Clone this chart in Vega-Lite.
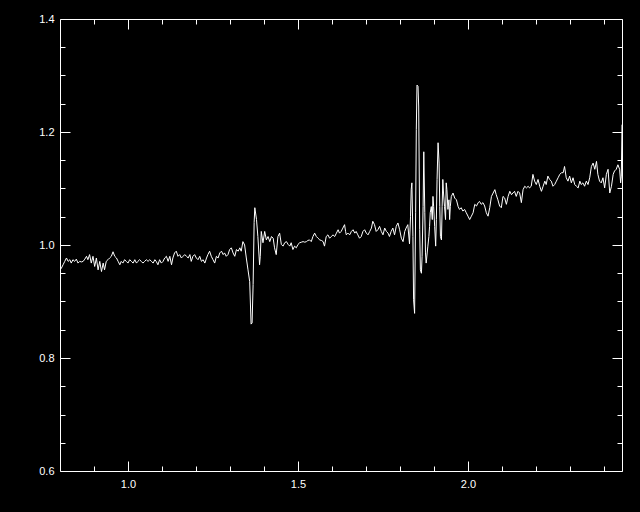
{
  "$schema": "https://vega.github.io/schema/vega-lite/v6.json",
  "autosize": "none",
  "width": 562,
  "height": 452,
  "padding": {"left": 60, "top": 19, "right": 18, "bottom": 41},
  "background": "black",
  "config": {
    "view": {"stroke": "white", "strokeWidth": 1},
    "axis": {"domain": false, "grid": false, "tickColor": "white", "tickWidth": 1, "labelColor": "white", "labelFont": "Liberation Sans", "labelFontSize": 11, "title": null, "labelFlush": false, "labelOverlap": false}
  },
  "data": {"values": [
    {"x":0.800,"y":0.956},{"x":0.804,"y":0.959},{"x":0.809,"y":0.965},{"x":0.814,"y":0.971},{"x":0.819,"y":0.977},{"x":0.824,"y":0.971},{"x":0.829,"y":0.974},{"x":0.833,"y":0.968},{"x":0.838,"y":0.974},{"x":0.843,"y":0.971},{"x":0.848,"y":0.975},{"x":0.853,"y":0.968},{"x":0.858,"y":0.971},{"x":0.863,"y":0.970},{"x":0.868,"y":0.971},{"x":0.873,"y":0.975},{"x":0.878,"y":0.980},{"x":0.882,"y":0.974},{"x":0.887,"y":0.983},{"x":0.892,"y":0.968},{"x":0.897,"y":0.980},{"x":0.902,"y":0.962},{"x":0.907,"y":0.977},{"x":0.912,"y":0.956},{"x":0.917,"y":0.971},{"x":0.922,"y":0.953},{"x":0.927,"y":0.968},{"x":0.931,"y":0.956},{"x":0.936,"y":0.971},{"x":0.941,"y":0.974},{"x":0.946,"y":0.977},{"x":0.951,"y":0.980},{"x":0.956,"y":0.988},{"x":0.961,"y":0.980},{"x":0.966,"y":0.977},{"x":0.971,"y":0.971},{"x":0.976,"y":0.965},{"x":0.980,"y":0.971},{"x":0.985,"y":0.968},{"x":0.990,"y":0.974},{"x":0.995,"y":0.971},{"x":1.000,"y":0.968},{"x":1.005,"y":0.974},{"x":1.010,"y":0.971},{"x":1.015,"y":0.968},{"x":1.020,"y":0.974},{"x":1.025,"y":0.968},{"x":1.029,"y":0.971},{"x":1.034,"y":0.974},{"x":1.039,"y":0.971},{"x":1.044,"y":0.968},{"x":1.049,"y":0.971},{"x":1.054,"y":0.974},{"x":1.059,"y":0.971},{"x":1.064,"y":0.974},{"x":1.069,"y":0.971},{"x":1.074,"y":0.968},{"x":1.079,"y":0.974},{"x":1.083,"y":0.971},{"x":1.088,"y":0.965},{"x":1.093,"y":0.974},{"x":1.098,"y":0.968},{"x":1.103,"y":0.971},{"x":1.108,"y":0.977},{"x":1.113,"y":0.980},{"x":1.118,"y":0.971},{"x":1.123,"y":0.980},{"x":1.128,"y":0.965},{"x":1.132,"y":0.977},{"x":1.137,"y":0.986},{"x":1.142,"y":0.989},{"x":1.147,"y":0.980},{"x":1.152,"y":0.983},{"x":1.157,"y":0.977},{"x":1.162,"y":0.980},{"x":1.167,"y":0.983},{"x":1.172,"y":0.980},{"x":1.177,"y":0.977},{"x":1.182,"y":0.983},{"x":1.186,"y":0.971},{"x":1.191,"y":0.980},{"x":1.196,"y":0.983},{"x":1.201,"y":0.977},{"x":1.206,"y":0.974},{"x":1.211,"y":0.980},{"x":1.216,"y":0.971},{"x":1.221,"y":0.974},{"x":1.226,"y":0.968},{"x":1.231,"y":0.977},{"x":1.235,"y":0.983},{"x":1.240,"y":0.989},{"x":1.245,"y":0.980},{"x":1.250,"y":0.974},{"x":1.255,"y":0.968},{"x":1.260,"y":0.980},{"x":1.265,"y":0.977},{"x":1.270,"y":0.986},{"x":1.275,"y":0.989},{"x":1.280,"y":0.983},{"x":1.284,"y":0.986},{"x":1.289,"y":0.980},{"x":1.294,"y":0.983},{"x":1.299,"y":0.992},{"x":1.304,"y":0.995},{"x":1.309,"y":0.986},{"x":1.314,"y":0.980},{"x":1.319,"y":0.992},{"x":1.324,"y":0.989},{"x":1.329,"y":0.995},{"x":1.333,"y":0.989},{"x":1.338,"y":1.006},{"x":1.343,"y":1.000},{"x":1.348,"y":0.977},{"x":1.353,"y":0.956},{"x":1.358,"y":0.935},{"x":1.362,"y":0.860},{"x":1.365,"y":0.862},{"x":1.368,"y":0.930},{"x":1.371,"y":1.040},{"x":1.373,"y":1.066},{"x":1.378,"y":1.045},{"x":1.382,"y":1.015},{"x":1.387,"y":0.965},{"x":1.389,"y":0.980},{"x":1.392,"y":1.024},{"x":1.397,"y":1.004},{"x":1.402,"y":1.024},{"x":1.407,"y":1.009},{"x":1.412,"y":1.015},{"x":1.417,"y":1.006},{"x":1.422,"y":1.015},{"x":1.427,"y":1.012},{"x":1.431,"y":0.995},{"x":1.436,"y":0.983},{"x":1.441,"y":1.015},{"x":1.446,"y":1.021},{"x":1.451,"y":1.001},{"x":1.456,"y":0.998},{"x":1.461,"y":1.004},{"x":1.466,"y":1.006},{"x":1.471,"y":1.001},{"x":1.476,"y":0.998},{"x":1.480,"y":1.004},{"x":1.485,"y":0.992},{"x":1.490,"y":0.998},{"x":1.495,"y":0.995},{"x":1.500,"y":1.001},{"x":1.505,"y":1.004},{"x":1.510,"y":1.005},{"x":1.515,"y":1.006},{"x":1.520,"y":1.005},{"x":1.525,"y":1.006},{"x":1.529,"y":1.008},{"x":1.534,"y":1.009},{"x":1.539,"y":1.006},{"x":1.544,"y":1.015},{"x":1.549,"y":1.021},{"x":1.554,"y":1.015},{"x":1.559,"y":1.012},{"x":1.564,"y":1.009},{"x":1.569,"y":1.008},{"x":1.574,"y":1.006},{"x":1.578,"y":0.998},{"x":1.583,"y":1.015},{"x":1.588,"y":1.018},{"x":1.593,"y":1.012},{"x":1.598,"y":1.015},{"x":1.603,"y":1.018},{"x":1.608,"y":1.015},{"x":1.613,"y":1.021},{"x":1.618,"y":1.027},{"x":1.622,"y":1.021},{"x":1.627,"y":1.024},{"x":1.632,"y":1.030},{"x":1.637,"y":1.036},{"x":1.640,"y":1.024},{"x":1.642,"y":1.018},{"x":1.647,"y":1.021},{"x":1.652,"y":1.018},{"x":1.657,"y":1.024},{"x":1.662,"y":1.027},{"x":1.667,"y":1.021},{"x":1.671,"y":1.024},{"x":1.676,"y":1.018},{"x":1.681,"y":1.012},{"x":1.686,"y":1.015},{"x":1.691,"y":1.024},{"x":1.696,"y":1.027},{"x":1.701,"y":1.021},{"x":1.706,"y":1.018},{"x":1.711,"y":1.024},{"x":1.716,"y":1.030},{"x":1.720,"y":1.042},{"x":1.725,"y":1.036},{"x":1.730,"y":1.024},{"x":1.735,"y":1.027},{"x":1.740,"y":1.033},{"x":1.745,"y":1.024},{"x":1.750,"y":1.018},{"x":1.755,"y":1.030},{"x":1.760,"y":1.024},{"x":1.765,"y":1.021},{"x":1.769,"y":1.015},{"x":1.774,"y":1.024},{"x":1.779,"y":1.030},{"x":1.784,"y":1.018},{"x":1.789,"y":1.033},{"x":1.794,"y":1.039},{"x":1.799,"y":1.027},{"x":1.804,"y":1.012},{"x":1.809,"y":1.006},{"x":1.814,"y":1.024},{"x":1.818,"y":1.030},{"x":1.823,"y":1.036},{"x":1.828,"y":1.002},{"x":1.831,"y":1.050},{"x":1.833,"y":1.098},{"x":1.835,"y":1.110},{"x":1.838,"y":1.015},{"x":1.840,"y":0.903},{"x":1.843,"y":0.879},{"x":1.846,"y":1.057},{"x":1.848,"y":1.204},{"x":1.850,"y":1.283},{"x":1.853,"y":1.281},{"x":1.855,"y":1.246},{"x":1.858,"y":1.027},{"x":1.860,"y":0.956},{"x":1.863,"y":0.950},{"x":1.865,"y":0.980},{"x":1.868,"y":1.068},{"x":1.870,"y":1.165},{"x":1.873,"y":1.057},{"x":1.875,"y":0.986},{"x":1.877,"y":0.968},{"x":1.882,"y":0.998},{"x":1.885,"y":1.015},{"x":1.887,"y":1.033},{"x":1.889,"y":1.057},{"x":1.892,"y":1.068},{"x":1.895,"y":1.045},{"x":1.897,"y":1.086},{"x":1.899,"y":1.068},{"x":1.902,"y":1.033},{"x":1.905,"y":0.998},{"x":1.907,"y":1.045},{"x":1.909,"y":1.116},{"x":1.912,"y":1.181},{"x":1.915,"y":1.145},{"x":1.917,"y":1.068},{"x":1.919,"y":1.015},{"x":1.922,"y":1.009},{"x":1.924,"y":1.068},{"x":1.926,"y":1.116},{"x":1.928,"y":1.092},{"x":1.931,"y":1.068},{"x":1.934,"y":1.045},{"x":1.936,"y":1.110},{"x":1.938,"y":1.098},{"x":1.941,"y":1.063},{"x":1.944,"y":1.080},{"x":1.946,"y":1.045},{"x":1.948,"y":1.068},{"x":1.951,"y":1.086},{"x":1.956,"y":1.092},{"x":1.961,"y":1.083},{"x":1.966,"y":1.080},{"x":1.971,"y":1.068},{"x":1.975,"y":1.063},{"x":1.980,"y":1.066},{"x":1.985,"y":1.060},{"x":1.990,"y":1.063},{"x":1.995,"y":1.057},{"x":2.000,"y":1.051},{"x":2.005,"y":1.045},{"x":2.010,"y":1.051},{"x":2.015,"y":1.057},{"x":2.020,"y":1.072},{"x":2.025,"y":1.069},{"x":2.030,"y":1.075},{"x":2.034,"y":1.077},{"x":2.039,"y":1.072},{"x":2.044,"y":1.075},{"x":2.049,"y":1.069},{"x":2.054,"y":1.057},{"x":2.059,"y":1.051},{"x":2.064,"y":1.066},{"x":2.069,"y":1.086},{"x":2.074,"y":1.092},{"x":2.079,"y":1.098},{"x":2.083,"y":1.089},{"x":2.088,"y":1.080},{"x":2.093,"y":1.069},{"x":2.098,"y":1.066},{"x":2.103,"y":1.086},{"x":2.108,"y":1.083},{"x":2.113,"y":1.072},{"x":2.118,"y":1.086},{"x":2.123,"y":1.095},{"x":2.128,"y":1.089},{"x":2.132,"y":1.092},{"x":2.137,"y":1.095},{"x":2.142,"y":1.086},{"x":2.147,"y":1.095},{"x":2.152,"y":1.092},{"x":2.157,"y":1.075},{"x":2.162,"y":1.098},{"x":2.167,"y":1.104},{"x":2.172,"y":1.101},{"x":2.177,"y":1.104},{"x":2.181,"y":1.101},{"x":2.186,"y":1.104},{"x":2.191,"y":1.125},{"x":2.196,"y":1.113},{"x":2.201,"y":1.107},{"x":2.206,"y":1.116},{"x":2.211,"y":1.104},{"x":2.216,"y":1.095},{"x":2.221,"y":1.104},{"x":2.226,"y":1.113},{"x":2.230,"y":1.107},{"x":2.235,"y":1.122},{"x":2.240,"y":1.116},{"x":2.245,"y":1.113},{"x":2.250,"y":1.104},{"x":2.255,"y":1.107},{"x":2.260,"y":1.113},{"x":2.265,"y":1.119},{"x":2.270,"y":1.125},{"x":2.275,"y":1.128},{"x":2.280,"y":1.128},{"x":2.284,"y":1.139},{"x":2.289,"y":1.119},{"x":2.294,"y":1.113},{"x":2.299,"y":1.122},{"x":2.304,"y":1.110},{"x":2.309,"y":1.119},{"x":2.314,"y":1.107},{"x":2.319,"y":1.104},{"x":2.324,"y":1.101},{"x":2.329,"y":1.113},{"x":2.333,"y":1.107},{"x":2.338,"y":1.110},{"x":2.343,"y":1.104},{"x":2.348,"y":1.113},{"x":2.353,"y":1.107},{"x":2.358,"y":1.119},{"x":2.363,"y":1.139},{"x":2.368,"y":1.145},{"x":2.373,"y":1.134},{"x":2.378,"y":1.148},{"x":2.382,"y":1.125},{"x":2.387,"y":1.113},{"x":2.392,"y":1.110},{"x":2.397,"y":1.119},{"x":2.402,"y":1.101},{"x":2.407,"y":1.125},{"x":2.412,"y":1.134},{"x":2.417,"y":1.092},{"x":2.422,"y":1.104},{"x":2.427,"y":1.125},{"x":2.431,"y":1.131},{"x":2.436,"y":1.134},{"x":2.441,"y":1.142},{"x":2.446,"y":1.134},{"x":2.449,"y":1.110},{"x":2.451,"y":1.122},{"x":2.453,"y":1.213}
  ]},
  "layer": [
    {
      "mark": {"type": "line", "color": "white", "strokeWidth": 1, "clip": true},
      "encoding": {
        "x": {"field": "x", "type": "quantitative", "scale": {"domain": [0.8, 2.453], "nice": false, "zero": false},
              "axis": {"orient": "bottom", "values": [1.0, 1.5, 2.0], "format": ".1f", "tickSize": -10, "labelPadding": 17}},
        "y": {"field": "y", "type": "quantitative", "scale": {"domain": [0.6, 1.4], "nice": false, "zero": false},
              "axis": {"orient": "left", "values": [0.6, 0.8, 1.0, 1.2, 1.4], "format": ".1f", "tickSize": -10, "labelPadding": 16}}
      }
    },
    {
      "mark": {"type": "line", "opacity": 0},
      "encoding": {
        "x": {"field": "x", "type": "quantitative", "axis": {"orient": "bottom", "values": [0.9, 1.1, 1.2, 1.3, 1.4, 1.6, 1.7, 1.8, 1.9, 2.1, 2.2, 2.3, 2.4], "labels": false, "tickSize": -5}},
        "y": {"field": "y", "type": "quantitative", "axis": {"orient": "left", "values": [0.65, 0.7, 0.75, 0.85, 0.9, 0.95, 1.05, 1.1, 1.15, 1.25, 1.3, 1.35], "labels": false, "tickSize": -5}}
      }
    },
    {
      "mark": {"type": "line", "opacity": 0},
      "encoding": {
        "x": {"field": "x", "type": "quantitative", "axis": {"orient": "top", "values": [1.0, 1.5, 2.0], "labels": false, "tickSize": -10}},
        "y": {"field": "y", "type": "quantitative", "axis": {"orient": "right", "values": [0.6, 0.8, 1.0, 1.2, 1.4], "labels": false, "tickSize": -10}}
      }
    },
    {
      "mark": {"type": "line", "opacity": 0},
      "encoding": {
        "x": {"field": "x", "type": "quantitative", "axis": {"orient": "top", "values": [0.9, 1.1, 1.2, 1.3, 1.4, 1.6, 1.7, 1.8, 1.9, 2.1, 2.2, 2.3, 2.4], "labels": false, "tickSize": -5}},
        "y": {"field": "y", "type": "quantitative", "axis": {"orient": "right", "values": [0.65, 0.7, 0.75, 0.85, 0.9, 0.95, 1.05, 1.1, 1.15, 1.25, 1.3, 1.35], "labels": false, "tickSize": -5}}
      }
    }
  ],
  "resolve": {"axis": {"x": "independent", "y": "independent"}}
}
